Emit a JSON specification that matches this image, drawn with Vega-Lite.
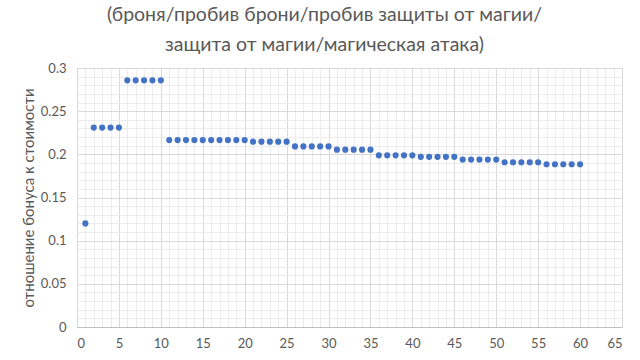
{
  "$schema": "https://vega.github.io/schema/vega-lite/v6.json",
  "autosize": "none",
  "width": 545,
  "height": 259,
  "padding": {"left": 77, "top": 68, "right": 18, "bottom": 33},
  "background": "white",
  "config": {
    "view": {"stroke": "#d9d9d9", "strokeWidth": 1},
    "font": "Lato"
  },
  "title": {
    "text": ["(броня/пробив брони/пробив защиты от магии/", "защита от магии/магическая атака)"],
    "fontSize": 19.5,
    "lineHeight": 30,
    "font": "Lato",
    "fontWeight": "normal",
    "color": "#595959",
    "anchor": "middle",
    "dx": -25,
    "offset": 7
  },
  "data": {
    "values": [
      {"x": 1, "y": 0.12},
      {"x": 2, "y": 0.231}, {"x": 3, "y": 0.231}, {"x": 4, "y": 0.231}, {"x": 5, "y": 0.231},
      {"x": 6, "y": 0.2857}, {"x": 7, "y": 0.2857}, {"x": 8, "y": 0.2857}, {"x": 9, "y": 0.2857}, {"x": 10, "y": 0.2857},
      {"x": 11, "y": 0.2165}, {"x": 12, "y": 0.2165}, {"x": 13, "y": 0.2165}, {"x": 14, "y": 0.2165}, {"x": 15, "y": 0.2165},
      {"x": 16, "y": 0.2165}, {"x": 17, "y": 0.2165}, {"x": 18, "y": 0.2165}, {"x": 19, "y": 0.2165}, {"x": 20, "y": 0.2165},
      {"x": 21, "y": 0.2147}, {"x": 22, "y": 0.2147}, {"x": 23, "y": 0.2147}, {"x": 24, "y": 0.2147}, {"x": 25, "y": 0.2147},
      {"x": 26, "y": 0.2092}, {"x": 27, "y": 0.2092}, {"x": 28, "y": 0.2092}, {"x": 29, "y": 0.2092}, {"x": 30, "y": 0.2092},
      {"x": 31, "y": 0.2054}, {"x": 32, "y": 0.2054}, {"x": 33, "y": 0.2054}, {"x": 34, "y": 0.2054}, {"x": 35, "y": 0.2054},
      {"x": 36, "y": 0.1988}, {"x": 37, "y": 0.1988}, {"x": 38, "y": 0.1988}, {"x": 39, "y": 0.1988}, {"x": 40, "y": 0.1988},
      {"x": 41, "y": 0.1971}, {"x": 42, "y": 0.1971}, {"x": 43, "y": 0.1971}, {"x": 44, "y": 0.1971}, {"x": 45, "y": 0.1971},
      {"x": 46, "y": 0.1939}, {"x": 47, "y": 0.1939}, {"x": 48, "y": 0.1939}, {"x": 49, "y": 0.1939}, {"x": 50, "y": 0.1939},
      {"x": 51, "y": 0.1908}, {"x": 52, "y": 0.1908}, {"x": 53, "y": 0.1908}, {"x": 54, "y": 0.1908}, {"x": 55, "y": 0.1908},
      {"x": 56, "y": 0.1885}, {"x": 57, "y": 0.1885}, {"x": 58, "y": 0.1885}, {"x": 59, "y": 0.1885}, {"x": 60, "y": 0.1885}
    ]
  },
  "resolve": {"axis": {"x": "independent", "y": "independent"}},
  "layer": [
    {
      "mark": {"type": "point", "opacity": 0},
      "encoding": {
        "x": {
          "field": "x", "type": "quantitative",
          "scale": {"domain": [0, 65], "nice": false, "zero": false},
          "axis": {
            "orient": "bottom", "title": null, "labels": false, "ticks": false, "domain": false,
            "grid": true, "gridColor": "#ececec", "gridWidth": 1,
            "values": [0,1,2,3,4,5,6,7,8,9,10,11,12,13,14,15,16,17,18,19,20,21,22,23,24,25,26,27,28,29,30,31,32,33,34,35,36,37,38,39,40,41,42,43,44,45,46,47,48,49,50,51,52,53,54,55,56,57,58,59,60,61,62,63,64,65]
          }
        },
        "y": {
          "field": "y", "type": "quantitative",
          "scale": {"domain": [0, 0.3], "nice": false, "zero": false},
          "axis": {
            "orient": "left", "title": null, "labels": false, "ticks": false, "domain": false,
            "grid": true, "gridColor": "#ececec", "gridWidth": 1,
            "values": [0,0.01,0.02,0.03,0.04,0.05,0.06,0.07,0.08,0.09,0.1,0.11,0.12,0.13,0.14,0.15,0.16,0.17,0.18,0.19,0.2,0.21,0.22,0.23,0.24,0.25,0.26,0.27,0.28,0.29,0.3]
          }
        }
      }
    },
    {
      "mark": {"type": "point", "filled": true, "opacity": 1, "size": 38, "color": "#4472C4"},
      "encoding": {
        "x": {
          "field": "x", "type": "quantitative",
          "axis": {
            "orient": "bottom", "title": null, "ticks": false, "domain": true, "domainColor": "#bfbfbf",
            "grid": true, "gridColor": "#d9d9d9",
            "values": [0,5,10,15,20,25,30,35,40,45,50,55,60,65],
            "labelFont": "Lato", "labelFontSize": 13, "labelColor": "#595959", "labelPadding": 10
          }
        },
        "y": {
          "field": "y", "type": "quantitative",
          "axis": {
            "orient": "left", "ticks": false, "domain": false,
            "grid": true, "gridColor": "#d9d9d9",
            "values": [0,0.05,0.1,0.15,0.2,0.25,0.3],
            "format": ".2~f",
            "labelFont": "Lato", "labelFontSize": 13, "labelColor": "#595959", "labelPadding": 11,
            "title": "отношение бонуса к стоимости",
            "titleFont": "Lato", "titleFontSize": 15, "titleFontWeight": "normal", "titleColor": "#595959",
            "titlePadding": 4
          }
        }
      }
    }
  ]
}
